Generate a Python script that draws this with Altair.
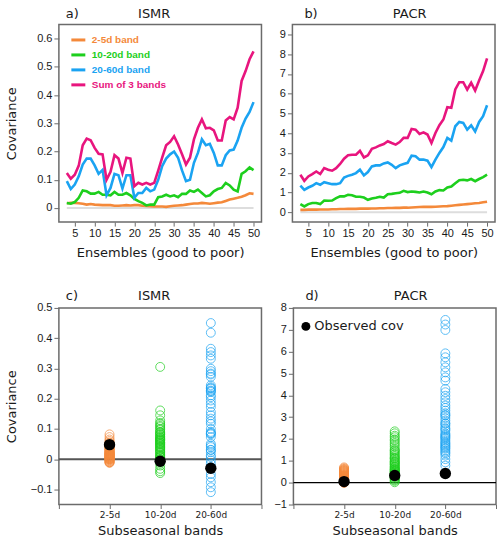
import altair as alt
import pandas as pd

# ---------------- data ----------------
ens = list(range(3, 51))
bands = ["2-5d band", "10-20d band", "20-60d band", "Sum of 3 bands"]
colors = ["#F4893A", "#1DCF1D", "#1AA3F2", "#E8157E"]

ismr_25 = [0.017, 0.018, 0.018, 0.017, 0.015, 0.012, 0.014, 0.012, 0.011, 0.010,
           0.010, 0.010, 0.008, 0.008, 0.009, 0.010, 0.009, 0.010, 0.010, 0.008,
           0.007, 0.006, 0.005, 0.005, 0.005, 0.004, 0.006, 0.008, 0.009, 0.010,
           0.012, 0.014, 0.016, 0.016, 0.018, 0.017, 0.015, 0.017, 0.019, 0.020,
           0.025, 0.030, 0.033, 0.036, 0.040, 0.045, 0.052, 0.050]
ismr_1020 = [0.018, 0.015, 0.021, 0.036, 0.062, 0.059, 0.051, 0.051, 0.057, 0.047,
             0.047, 0.045, 0.057, 0.047, 0.047, 0.053, 0.045, 0.032, 0.024, 0.018,
             0.009, 0.012, 0.012, 0.038, 0.041, 0.047, 0.041, 0.045, 0.038, 0.050,
             0.050, 0.062, 0.057, 0.065, 0.053, 0.041, 0.045, 0.059, 0.067, 0.071,
             0.089, 0.080, 0.065, 0.059, 0.121, 0.130, 0.144, 0.134]
ismr_2060 = [0.095, 0.067, 0.083, 0.112, 0.154, 0.175, 0.175, 0.151, 0.121, 0.135,
             0.045, 0.071, 0.121, 0.116, 0.069, 0.116, 0.116, 0.036, 0.053, 0.053,
             0.071, 0.059, 0.065, 0.100, 0.148, 0.175, 0.190, 0.200, 0.178, 0.133,
             0.095, 0.100, 0.160, 0.195, 0.243, 0.222, 0.227, 0.195, 0.151, 0.151,
             0.187, 0.204, 0.207, 0.239, 0.284, 0.317, 0.340, 0.375]
ismr_sum = [0.124, 0.104, 0.118, 0.150, 0.222, 0.246, 0.240, 0.213, 0.192, 0.190,
            0.100, 0.128, 0.187, 0.175, 0.124, 0.178, 0.175, 0.077, 0.089, 0.083,
            0.089, 0.083, 0.089, 0.132, 0.178, 0.222, 0.234, 0.254, 0.225, 0.190,
            0.154, 0.178, 0.243, 0.284, 0.314, 0.282, 0.284, 0.275, 0.239, 0.239,
            0.310, 0.322, 0.314, 0.355, 0.450, 0.485, 0.527, 0.555]

pacr_25 = [0.12, 0.12, 0.13, 0.13, 0.13, 0.14, 0.14, 0.14, 0.15, 0.15,
           0.16, 0.16, 0.17, 0.17, 0.17, 0.18, 0.18, 0.18, 0.19, 0.19,
           0.20, 0.20, 0.21, 0.21, 0.22, 0.22, 0.23, 0.23, 0.24, 0.25,
           0.26, 0.27, 0.28, 0.27, 0.28, 0.29, 0.30, 0.31, 0.33, 0.35,
           0.37, 0.39, 0.41, 0.43, 0.45, 0.47, 0.50, 0.53]
pacr_1020 = [0.41, 0.29, 0.41, 0.47, 0.47, 0.41, 0.59, 0.58, 0.59, 0.71,
             0.80, 0.80, 0.88, 0.86, 0.78, 0.78, 0.74, 0.63, 0.69, 0.73,
             0.78, 0.74, 0.91, 0.93, 0.96, 0.98, 1.08, 1.02, 1.05, 1.03,
             1.00, 1.05, 1.00, 0.91, 1.05, 1.12, 1.10, 1.25, 1.30, 1.47,
             1.62, 1.64, 1.61, 1.68, 1.57, 1.68, 1.78, 1.90]
pacr_2060 = [1.35, 1.13, 1.25, 1.34, 1.47, 1.39, 1.52, 1.47, 1.42, 1.42,
             1.47, 1.76, 1.84, 1.90, 1.98, 2.15, 1.86, 2.03, 2.32, 2.37,
             2.37, 2.47, 2.52, 2.40, 2.23, 2.37, 2.44, 2.50, 2.86, 2.83,
             2.66, 2.67, 2.61, 2.28, 2.66, 3.00, 3.30, 3.76, 3.62, 4.35,
             4.57, 4.52, 4.18, 4.40, 4.09, 4.57, 4.86, 5.41]
pacr_sum = [1.90, 1.59, 1.81, 1.93, 2.06, 1.93, 2.23, 2.15, 2.10, 2.23,
            2.44, 2.71, 2.88, 2.91, 2.91, 3.11, 2.77, 2.88, 3.21, 3.28,
            3.38, 3.45, 3.59, 3.50, 3.42, 3.55, 3.76, 3.76, 4.21, 4.18,
            3.96, 4.04, 3.93, 3.50, 4.01, 4.40, 4.69, 5.31, 5.28, 6.21,
            6.58, 6.58, 6.21, 6.55, 6.16, 6.67, 7.14, 7.78]

band_labels = ["2-5d", "10-20d", "20-60d"]
scatter_colors = ["#F4893A", "#1DCF1D", "#1AA3F2"]

c_25 = [0.082, 0.073, 0.065, 0.060, 0.055, 0.052, 0.048, 0.045, 0.042, 0.040,
        0.038, 0.036, 0.034, 0.032, 0.030, 0.028, 0.027, 0.025, 0.024, 0.022,
        0.021, 0.020, 0.019, 0.018, 0.017, 0.016, 0.015, 0.014, 0.013, 0.012,
        0.011, 0.010, 0.009, 0.008, 0.007, 0.006, 0.005, 0.004, 0.003, 0.002,
        0.001, 0.000, -0.001, -0.002, -0.004, -0.006, -0.008, -0.010, -0.011, -0.012]
c_1020 = [0.305, 0.161, 0.145, 0.128, 0.115, 0.106, 0.097, 0.089, 0.082, 0.073,
          0.064, 0.056, 0.049, 0.040, 0.031, 0.023, 0.015, 0.007, -0.002, -0.011,
          -0.021, -0.032, -0.040, -0.046, 0.020, 0.030, 0.035, 0.045, 0.050, 0.055,
          0.060, 0.065, 0.070, 0.075, 0.080, 0.085, 0.090, 0.100, 0.110, 0.120,
          0.000, 0.005, 0.010, 0.012, 0.025, 0.038, 0.042, 0.052, 0.062, 0.068]
c_2060 = [0.450, 0.418, 0.365, 0.354, 0.343, 0.332, 0.299, 0.291, 0.283, 0.272,
          0.244, 0.238, 0.233, 0.227, 0.222, 0.211, 0.194, 0.183, 0.172, 0.156,
          0.145, 0.134, 0.117, 0.100, 0.086, 0.082, 0.073, 0.051, 0.040, 0.031,
          0.023, 0.007, -0.004, -0.015, -0.026, -0.049, -0.060, -0.076, -0.093, -0.109,
          0.235, 0.225, 0.085, 0.090, 0.280, 0.125, 0.030, 0.012, 0.045, 0.205]
c_obs = [0.048, -0.007, -0.030]

d_25 = [0.70, 0.66, 0.63, 0.60, 0.58, 0.56, 0.54, 0.52, 0.50, 0.48,
        0.46, 0.44, 0.42, 0.40, 0.38, 0.36, 0.35, 0.33, 0.32, 0.30,
        0.29, 0.28, 0.26, 0.25, 0.24, 0.23, 0.22, 0.21, 0.20, 0.19,
        0.18, 0.17, 0.16, 0.15, 0.14, 0.13, 0.12, 0.11, 0.10, 0.09,
        0.08, 0.07, 0.06, 0.05, 0.04, 0.03, 0.02, 0.01, 0.005, 0.00]
d_1020 = [2.35, 2.26, 2.15, 2.08, 1.98, 1.92, 1.82, 1.74, 1.65, 1.54,
          1.48, 1.39, 1.33, 1.28, 1.22, 1.16, 1.10, 1.04, 0.98, 0.93,
          0.88, 0.82, 0.76, 0.70, 0.65, 0.60, 0.58, 0.54, 0.50, 0.47,
          0.44, 0.41, 0.37, 0.34, 0.30, 0.27, 0.24, 0.20, 0.17, 0.12,
          0.08, 0.02, 1.45, 1.12, 0.95, 0.85, 0.72, 0.62, 0.52, 0.40]
d_2060 = [7.45, 7.24, 6.99, 5.92, 5.74, 5.51, 5.28, 5.05, 4.82, 4.67,
          4.29, 4.14, 3.98, 3.83, 3.68, 3.53, 3.42, 3.30, 3.18, 3.07,
          2.96, 2.84, 2.72, 2.61, 2.50, 2.38, 2.26, 2.15, 2.05, 1.92,
          1.80, 1.69, 1.59, 1.47, 1.34, 1.24, 1.08, 0.93, 0.78, 1.40,
          1.55, 1.65, 1.75, 1.85, 2.00, 2.10, 2.20, 2.45, 2.70, 3.10]
d_obs = [0.05, 0.33, 0.42]

# ---------------- style ----------------
FONT = "DejaVu Sans"
LFONT = "Liberation Sans"
FRAME = "#6b6b6b"
TXT = "#1a1a1a"
W = 203


def line_df(series):
    rows = []
    for b, s in zip(bands, series):
        for e, v in zip(ens, s):
            rows.append({"ens": e, "value": v, "band": b})
    return pd.DataFrame(rows)


def scatter_df(series):
    rows = []
    for i, (lab, s) in enumerate(zip(band_labels, series)):
        for v in s:
            rows.append({"pos": i + 1, "value": v, "band": lab})
    return pd.DataFrame(rows)


def yaxis(values, fmt, title):
    kw = dict(values=values, format=fmt, grid=False, domain=False, tickSize=5,
              tickColor=FRAME, tickWidth=1, labelFont=LFONT, labelFontSize=11,
              labelColor=TXT, labelPadding=2, minExtent=22, maxExtent=22,
              labelOverlap=False)
    if title:
        kw.update(title=title, titleFont=FONT, titleFontSize=13,
                  titleFontWeight="normal", titleColor=TXT, titlePadding=18)
    else:
        kw.update(title=None)
    return alt.Axis(**kw)


def xaxis_ens():
    return alt.Axis(values=list(range(5, 51, 5)), grid=False, domain=False,
                    tickSize=4, tickColor=FRAME, labelFont=LFONT, labelFontSize=11,
                    labelColor=TXT, labelPadding=1, labelOverlap=False,
                    title="Ensembles (good to poor)",
                    titleFont=FONT, titleFontSize=13, titleFontWeight="normal",
                    titleColor=TXT, titlePadding=8)


def xaxis_bands():
    expr = "datum.value == 1 ? '%s' : datum.value == 2 ? '%s' : datum.value == 3 ? '%s' : ''" % tuple(band_labels)
    return alt.Axis(values=[0, 1, 2, 3, 4], labelExpr=expr, grid=False, domain=False,
                    tickSize=4, tickColor=FRAME, labelFont=FONT, labelFontSize=9,
                    labelColor=TXT, labelPadding=2, labelOverlap=False,
                    title="Subseasonal bands",
                    titleFont=FONT, titleFontSize=13, titleFontWeight="normal",
                    titleColor=TXT, titlePadding=5)


def headers(tag, tagdx, name, namedx, ty):
    tag_t = alt.Chart(pd.DataFrame({"t": [tag]})).mark_text(
        font=FONT, fontSize=13, color=TXT, align="left", baseline="alphabetic"
    ).encode(text="t:N", x=alt.value(tagdx), y=alt.value(ty))
    name_t = alt.Chart(pd.DataFrame({"t": [name]})).mark_text(
        font=FONT, fontSize=13, color=TXT, align="center", baseline="alphabetic"
    ).encode(text="t:N", x=alt.value(W / 2 + namedx), y=alt.value(ty))
    return [tag_t, name_t]


label_color_expr = "".join(
    "datum.label == '%s' ? '%s' : " % (b, c) for b, c in zip(bands[:-1], colors[:-1])
) + "'%s'" % colors[-1]


def line_panel(series, ydom, yvals, yfmt, ytitle, tag, tagdx, name, namedx, legend):
    df = line_df(series)
    base_df = pd.DataFrame({"x0": [ens[0]], "x1": [ens[-1]], "y": [0]})
    xs = alt.Scale(domain=[1, 52], nice=False, zero=False)
    ys = alt.Scale(domain=ydom, nice=False, zero=False)
    xa = xaxis_ens()
    ya = yaxis(yvals, yfmt, ytitle)
    if legend:
        leg = alt.Legend(title=None, orient="none", legendX=11, legendY=7,
                         symbolType="stroke", symbolStrokeWidth=3, symbolSize=196,
                         labelFont=LFONT, labelFontSize=10, labelFontWeight="bold",
                         rowPadding=-4, padding=0, labelOffset=5,
                         labelColor=alt.ExprRef(expr=label_color_expr))
    else:
        leg = None
    zero = alt.Chart(base_df).mark_rule(color="#dddddd", strokeWidth=2).encode(
        x=alt.X("x0:Q", scale=xs, axis=xa), x2="x1:Q", y=alt.Y("y:Q", scale=ys, axis=ya))
    lines = alt.Chart(df).mark_line(strokeWidth=2.6).encode(
        x=alt.X("ens:Q", scale=xs, axis=xa),
        y=alt.Y("value:Q", scale=ys, axis=ya),
        color=alt.Color("band:N", scale=alt.Scale(domain=bands, range=colors), legend=leg,
                        sort=bands),
        order=alt.Order("ens:Q"),
    )
    return alt.layer(zero, lines, *headers(tag, tagdx, name, namedx, -6.5)).properties(
        width=W, height=198)


def scatter_panel(series, obs, ydom, yvals, yfmt, ytitle, tag, tagdx, name, namedx,
                  legend, zero_color, zero_width):
    df = scatter_df(series)
    odf = pd.DataFrame({"pos": [1, 2, 3], "value": obs, "lab": ["Observed cov"] * 3})
    xs = alt.Scale(domain=[0, 4], nice=False, zero=False)
    ys = alt.Scale(domain=ydom, nice=False, zero=False)
    xa = xaxis_bands()
    ya = yaxis(yvals, yfmt, ytitle)
    zero = alt.Chart(pd.DataFrame({"y": [0]})).mark_rule(
        color=zero_color, strokeWidth=zero_width).encode(y=alt.Y("y:Q", scale=ys, axis=ya))
    pts = alt.Chart(df).mark_point(filled=False, size=80, strokeWidth=1).encode(
        x=alt.X("pos:Q", scale=xs, axis=xa),
        y=alt.Y("value:Q", scale=ys, axis=ya),
        stroke=alt.Stroke("band:N", scale=alt.Scale(domain=band_labels, range=scatter_colors),
                          legend=None),
    )
    if legend:
        fill = alt.Fill("lab:N", scale=alt.Scale(domain=["Observed cov"], range=["#000000"]),
                        legend=alt.Legend(title=None, orient="none", legendX=6, legendY=12,
                                          symbolType="circle", symbolSize=80,
                                          labelFont=FONT, labelFontSize=13, labelColor=TXT,
                                          labelOffset=2, padding=0))
    else:
        fill = alt.value("#000000")
    ob = alt.Chart(odf).mark_circle(size=130, opacity=1).encode(
        x=alt.X("pos:Q", scale=xs, axis=xa), y=alt.Y("value:Q", scale=ys, axis=ya), fill=fill)
    return alt.layer(zero, pts, ob, *headers(tag, tagdx, name, namedx, -8)).properties(
        width=W, height=197)


a = line_panel([ismr_25, ismr_1020, ismr_2060, ismr_sum], [-0.05, 0.65],
               [0, 0.1, 0.2, 0.3, 0.4, 0.5, 0.6], ".1~f", "Covariance", "a)", 7, "ISMR", -6, True)
b = line_panel([pacr_25, pacr_1020, pacr_2060, pacr_sum], [-0.5, 9.5],
               list(range(0, 10)), "d", None, "b)", 12, "PACR", 16, False)
c = scatter_panel([c_25, c_1020, c_2060], c_obs, [-0.15, 0.5],
                  [-0.1, 0, 0.1, 0.2, 0.3, 0.4, 0.5], ".1~f", "Covariance", "c)", 7, "ISMR", -6,
                  False, "#555555", 2)
d = scatter_panel([d_25, d_1020, d_2060], d_obs, [-1, 8],
                  list(range(-1, 9)), "d", None, "d)", 12, "PACR", 16,
                  True, "#000000", 1.3)

RES = dict(color="independent", fill="independent", stroke="independent")
top = alt.hconcat(a, b, spacing=7).resolve_scale(**RES).resolve_legend(**RES)
bot = alt.hconcat(c, d, spacing=7).resolve_scale(**RES).resolve_legend(**RES)

chart = alt.vconcat(top, bot, spacing=29).resolve_scale(**RES).resolve_legend(**RES).properties(
    padding={"left": 5, "top": 6, "right": 2, "bottom": 2},
    background="white",
).configure_view(stroke=FRAME, strokeWidth=1.5)

chart.save("out.html", embed_options={"renderer": "svg", "actions": False})
